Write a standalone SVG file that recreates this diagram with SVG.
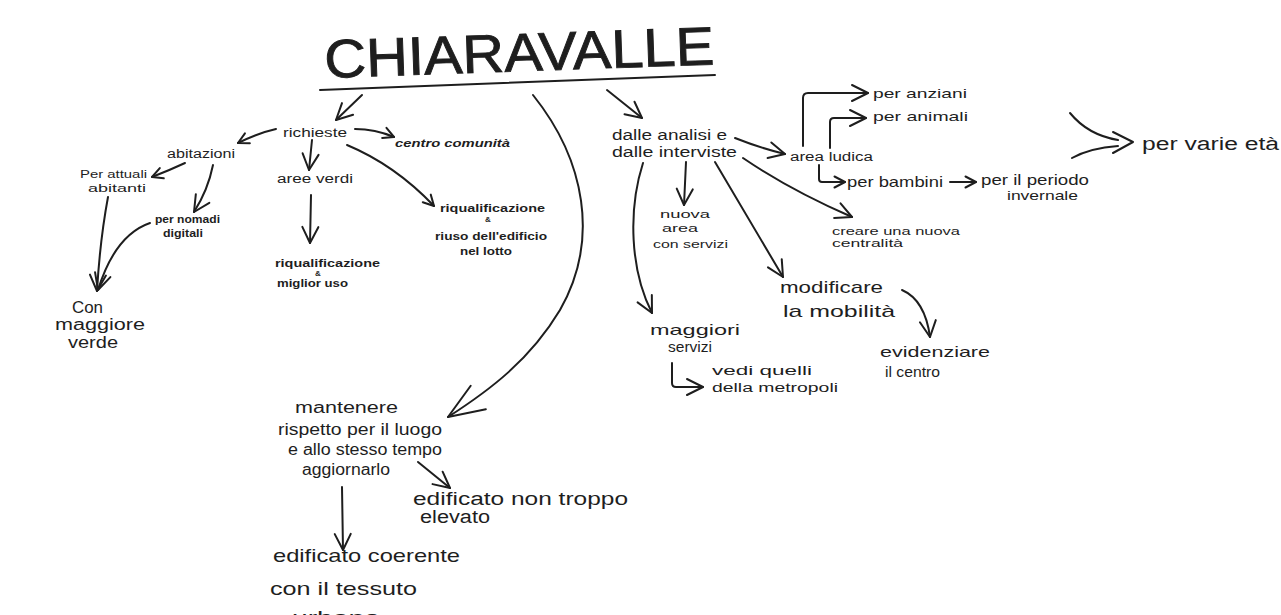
<svg xmlns="http://www.w3.org/2000/svg" width="1281" height="615" viewBox="0 0 1281 615">
<style>
.t{font-family:"Liberation Sans",Arial,sans-serif;fill:#1e1e1e}
.b{font-weight:bold}
.c{fill:none;stroke:#1e1e1e;stroke-width:2;stroke-linecap:round;stroke-linejoin:round}
.s{marker-end:url(#sm)}
.m{marker-end:url(#md)}
.l{marker-end:url(#lg)}
</style>
<defs>
<marker id="sm" viewBox="0 0 14 14" markerWidth="14" markerHeight="14" refX="12.5" refY="7" orient="auto" markerUnits="userSpaceOnUse" overflow="visible"><path d="M2,1.5 L12.5,7 L2,12.5" class="c" stroke-width="1.8"/></marker>
<marker id="md" viewBox="0 0 20 20" markerWidth="20" markerHeight="20" refX="18" refY="10" orient="auto" markerUnits="userSpaceOnUse" overflow="visible"><path d="M2,2 L18,10 L2,18" class="c"/></marker>
<marker id="lg" viewBox="0 0 40 40" markerWidth="40" markerHeight="40" refX="38" refY="20" orient="auto" markerUnits="userSpaceOnUse" overflow="visible"><path d="M2,6 L38,20 L2,34" class="c" stroke-width="2.5"/></marker>
</defs>
<rect width="1281" height="615" fill="#ffffff"/>

<g id="title">
<text class="t" x="325" y="78" font-size="54" stroke="#1e1e1e" stroke-width="0.9" textLength="390" lengthAdjust="spacingAndGlyphs" transform="rotate(-2 325 78)">CHIARAVALLE</text>
<path d="M320,90 L715,75" class="c" stroke-width="3.5"/>
</g>

<g id="connectors">
<path class="c m" d="M362,95 L336,120"/>
<path class="c l" d="M533,95 C585,160 600,240 560,310 C530,360 490,390 448,417"/>
<path class="c m" d="M607,90 L642,118"/>
<path class="c s" d="M276,129 Q258,133 238,143"/>
<path class="c s" d="M185,163 Q170,170 152,177"/>
<path class="c m" d="M213,165 Q208,190 194,212"/>
<path class="c m" d="M108,197 Q100,240 97,291"/>
<path class="c m" d="M150,223 Q115,235 98,290"/>
<path class="c m" d="M312,140 L309,170"/>
<path class="c m" d="M311,195 L310,243"/>
<path class="c s" d="M355,129 Q375,129 394,137"/>
<path class="c s" d="M347,145 Q395,165 434,206"/>
<path class="c m" d="M735,138 Q760,148 785,154"/>
<path class="c m" d="M803,146 L803,98 Q803,93 808,93 L868,93"/>
<path class="c m" d="M830,148 L830,122 Q830,118 834,118 L866,118"/>
<path class="c s" d="M819,165 L819,179 Q819,182 822,182 L845,182"/>
<path class="c s" d="M950,182 L976,182"/>
<path class="c" d="M1070,113 Q1088,135 1118,140"/>
<path class="c" d="M1072,158 Q1090,148 1118,146"/>
<path class="c" d="M1113,132 L1133,142 L1113,153"/>
<path class="c m" d="M743,158 Q790,190 852,217"/>
<path class="c m" d="M686,162 L684,205"/>
<path class="c m" d="M643,163 C628,210 630,270 652,313"/>
<path class="c m" d="M715,162 L783,277"/>
<path class="c m" d="M902,290 Q925,300 930,337"/>
<path class="c m" d="M672,363 L672,383 Q672,387 676,387 L703,387"/>
<path class="c m" d="M418,462 L450,488"/>
<path class="c m" d="M342,487 L343,550"/>
</g>

<g id="n-richieste"><text class="t" x="283" y="137" font-size="13" textLength="64" lengthAdjust="spacingAndGlyphs">richieste</text></g>
<g id="n-abitazioni"><text class="t" x="167" y="158" font-size="12" textLength="68" lengthAdjust="spacingAndGlyphs">abitazioni</text></g>
<g id="n-attuali">
<text class="t" x="80" y="178" font-size="11" textLength="67" lengthAdjust="spacingAndGlyphs">Per attuali</text>
<text class="t" x="88" y="192" font-size="11" textLength="58" lengthAdjust="spacingAndGlyphs">abitanti</text>
</g>
<g id="n-nomadi">
<text class="t b" x="155" y="223" font-size="10" textLength="65" lengthAdjust="spacingAndGlyphs">per nomadi</text>
<text class="t b" x="163" y="237" font-size="10" textLength="40" lengthAdjust="spacingAndGlyphs">digitali</text>
</g>
<g id="n-verde">
<text class="t" x="72" y="313" font-size="16" textLength="31" lengthAdjust="spacingAndGlyphs">Con</text>
<text class="t" x="55" y="330" font-size="16" textLength="90" lengthAdjust="spacingAndGlyphs">maggiore</text>
<text class="t" x="68" y="348" font-size="16" textLength="50" lengthAdjust="spacingAndGlyphs">verde</text>
</g>
<g id="n-aree-verdi"><text class="t" x="277" y="183" font-size="12" textLength="76" lengthAdjust="spacingAndGlyphs">aree verdi</text></g>
<g id="n-riqual-uso">
<text class="t b" x="275" y="267" font-size="10" textLength="105" lengthAdjust="spacingAndGlyphs">riqualificazione</text>
<text class="t b" x="318" y="276" font-size="8" text-anchor="middle">&amp;</text>
<text class="t b" x="277" y="287" font-size="10" textLength="71" lengthAdjust="spacingAndGlyphs">miglior uso</text>
</g>
<g id="n-centro"><text class="t b" x="395" y="147" font-size="11" font-style="italic" textLength="115" lengthAdjust="spacingAndGlyphs">centro comunità</text></g>
<g id="n-riqual-riuso">
<text class="t b" x="440" y="212" font-size="10" textLength="105" lengthAdjust="spacingAndGlyphs">riqualificazione</text>
<text class="t b" x="488" y="222" font-size="8" text-anchor="middle">&amp;</text>
<text class="t b" x="435" y="240" font-size="10" textLength="112" lengthAdjust="spacingAndGlyphs">riuso dell'edificio</text>
<text class="t b" x="460" y="255" font-size="10" textLength="52" lengthAdjust="spacingAndGlyphs">nel lotto</text>
</g>
<g id="n-dalle">
<text class="t" x="612" y="140" font-size="14" textLength="115" lengthAdjust="spacingAndGlyphs">dalle analisi e</text>
<text class="t" x="612" y="157" font-size="14" textLength="125" lengthAdjust="spacingAndGlyphs">dalle interviste</text>
</g>
<g id="n-ludica"><text class="t" x="790" y="161" font-size="12" textLength="83" lengthAdjust="spacingAndGlyphs">area ludica</text></g>
<g id="n-anziani"><text class="t" x="873" y="98" font-size="13" textLength="94" lengthAdjust="spacingAndGlyphs">per anziani</text></g>
<g id="n-animali"><text class="t" x="873" y="121" font-size="13" textLength="95" lengthAdjust="spacingAndGlyphs">per animali</text></g>
<g id="n-bambini"><text class="t" x="847" y="187" font-size="15" textLength="96" lengthAdjust="spacingAndGlyphs">per bambini</text></g>
<g id="n-periodo">
<text class="t" x="981" y="185" font-size="14" textLength="108" lengthAdjust="spacingAndGlyphs">per il periodo</text>
<text class="t" x="1007" y="200" font-size="13" textLength="71" lengthAdjust="spacingAndGlyphs">invernale</text>
</g>
<g id="n-eta"><text class="t" x="1142" y="150" font-size="18" textLength="137" lengthAdjust="spacingAndGlyphs">per varie età</text></g>
<g id="n-centralita">
<text class="t" x="832" y="235" font-size="11" textLength="128" lengthAdjust="spacingAndGlyphs">creare una nuova</text>
<text class="t" x="832" y="247" font-size="11" textLength="71" lengthAdjust="spacingAndGlyphs">centralità</text>
</g>
<g id="n-nuova-area">
<text class="t" x="660" y="218" font-size="11" textLength="50" lengthAdjust="spacingAndGlyphs">nuova</text>
<text class="t" x="662" y="232" font-size="11" textLength="36" lengthAdjust="spacingAndGlyphs">area</text>
<text class="t" x="653" y="248" font-size="11" textLength="75" lengthAdjust="spacingAndGlyphs">con servizi</text>
</g>
<g id="n-mobilita">
<text class="t" x="780" y="293" font-size="17" textLength="103" lengthAdjust="spacingAndGlyphs">modificare</text>
<text class="t" x="783" y="317" font-size="17" textLength="112" lengthAdjust="spacingAndGlyphs">la mobilità</text>
</g>
<g id="n-evidenziare">
<text class="t" x="880" y="357" font-size="15" textLength="110" lengthAdjust="spacingAndGlyphs">evidenziare</text>
<text class="t" x="885" y="377" font-size="15" textLength="55" lengthAdjust="spacingAndGlyphs">il centro</text>
</g>
<g id="n-maggiori">
<text class="t" x="650" y="335" font-size="15" textLength="90" lengthAdjust="spacingAndGlyphs">maggiori</text>
<text class="t" x="668" y="352" font-size="14" textLength="44" lengthAdjust="spacingAndGlyphs">servizi</text>
</g>
<g id="n-metropoli">
<text class="t" x="712" y="375" font-size="12" textLength="100" lengthAdjust="spacingAndGlyphs">vedi quelli</text>
<text class="t" x="712" y="392" font-size="12" textLength="126" lengthAdjust="spacingAndGlyphs">della metropoli</text>
</g>
<g id="n-mantenere">
<text class="t" x="295" y="413" font-size="16" textLength="103" lengthAdjust="spacingAndGlyphs">mantenere</text>
<text class="t" x="278" y="435" font-size="16" textLength="164" lengthAdjust="spacingAndGlyphs">rispetto per il luogo</text>
<text class="t" x="288" y="455" font-size="16" textLength="154" lengthAdjust="spacingAndGlyphs">e allo stesso tempo</text>
<text class="t" x="302" y="475" font-size="16" textLength="88" lengthAdjust="spacingAndGlyphs">aggiornarlo</text>
</g>
<g id="n-elevato">
<text class="t" x="413" y="505" font-size="18" textLength="215" lengthAdjust="spacingAndGlyphs">edificato non troppo</text>
<text class="t" x="420" y="523" font-size="18" textLength="70" lengthAdjust="spacingAndGlyphs">elevato</text>
</g>
<g id="n-coerente">
<text class="t" x="273" y="562" font-size="19" textLength="187" lengthAdjust="spacingAndGlyphs">edificato coerente</text>
<text class="t" x="270" y="595" font-size="19" textLength="147" lengthAdjust="spacingAndGlyphs">con il tessuto</text>
<text class="t" x="292" y="624" font-size="19" textLength="88" lengthAdjust="spacingAndGlyphs">urbano</text>
</g>
</svg>
